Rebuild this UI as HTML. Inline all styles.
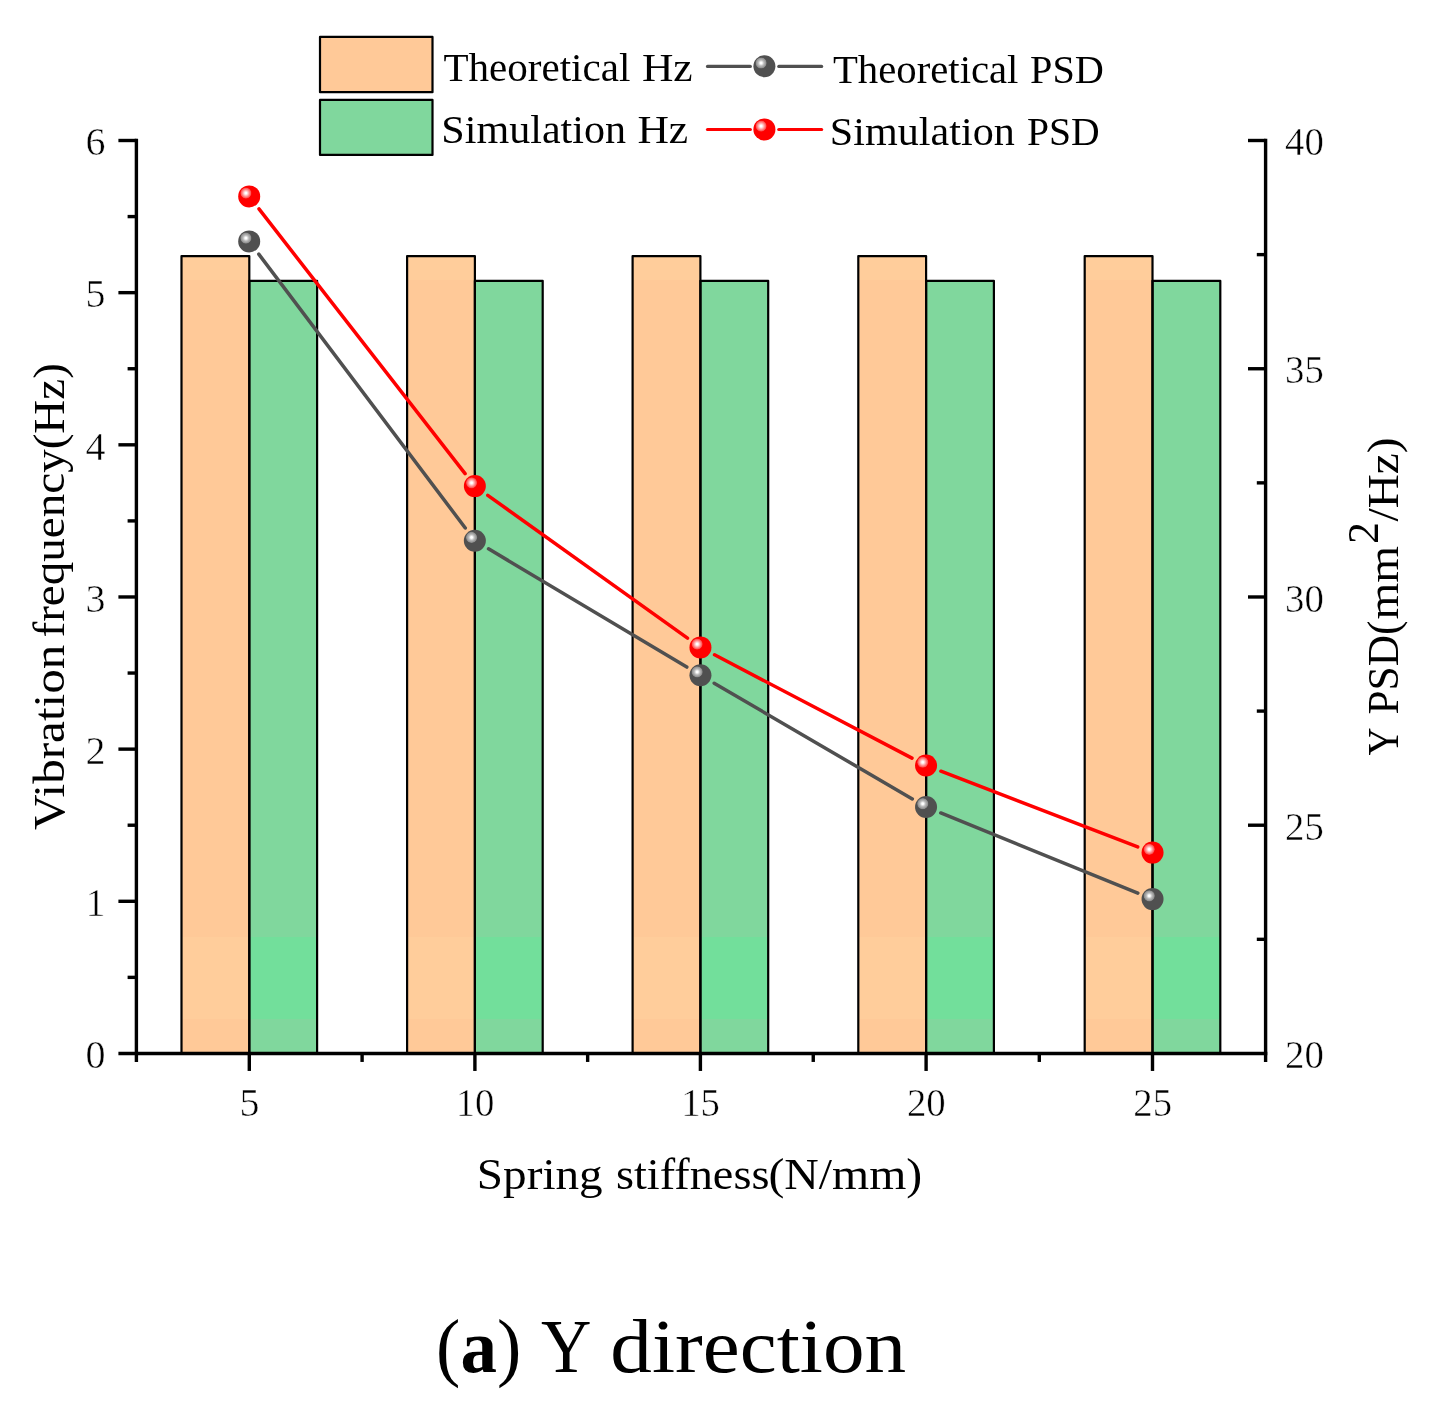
<!DOCTYPE html>
<html lang="en"><head><meta charset="utf-8"><title>(a) Y direction</title>
<style>html,body{margin:0;padding:0;background:#fff;}svg{display:block;}text{font-family:"Liberation Serif","Noto Serif CJK SC",serif;fill:#000;white-space:pre;}.tk{font-size:40px;stroke:#fff;stroke-width:0.5px;paint-order:fill stroke;}.lg{font-size:39.5px;}.ax{font-size:45px;}.tt{font-size:77px;}</style></head><body>
<svg width="1432" height="1422" viewBox="0 0 1432 1422">
<defs>
<radialGradient id="gr" cx="0.5" cy="0.5" r="0.5"><stop offset="0" stop-color="#fff"/><stop offset="0.16" stop-color="#fff"/><stop offset="0.55" stop-color="#ffa0a0"/><stop offset="0.92" stop-color="#ff4a4a"/><stop offset="1" stop-color="#ff1c1c"/></radialGradient>
<radialGradient id="gg" cx="0.5" cy="0.5" r="0.5"><stop offset="0" stop-color="#fff"/><stop offset="0.16" stop-color="#fff"/><stop offset="0.5" stop-color="#bcbcbc"/><stop offset="0.92" stop-color="#8c8c8c"/><stop offset="1" stop-color="#6c6c6c"/></radialGradient>
</defs>
<rect width="1432" height="1422" fill="#fff"/>
<rect x="181.50" y="256.1" width="67.8" height="797.35" fill="#FFC998"/>
<rect x="249.30" y="280.8" width="67.8" height="772.65" fill="#80D79D"/>
<rect x="181.50" y="937" width="67.8" height="82" fill="#FFCD9B"/>
<rect x="181.50" y="256.1" width="67.8" height="23.90" fill="#FFCD9B"/>
<rect x="249.30" y="937" width="67.8" height="82" fill="#72DF9B"/>
<rect x="181.50" y="256.1" width="67.8" height="797.35" fill="none" stroke="#000" stroke-width="2.2" stroke-linejoin="round"/>
<rect x="249.30" y="280.8" width="67.8" height="772.65" fill="none" stroke="#000" stroke-width="2.2" stroke-linejoin="round"/>
<rect x="407.10" y="256.1" width="67.8" height="797.35" fill="#FFC998"/>
<rect x="474.90" y="280.8" width="67.8" height="772.65" fill="#80D79D"/>
<rect x="407.10" y="937" width="67.8" height="82" fill="#FFCD9B"/>
<rect x="407.10" y="256.1" width="67.8" height="23.90" fill="#FFCD9B"/>
<rect x="474.90" y="937" width="67.8" height="82" fill="#72DF9B"/>
<rect x="407.10" y="256.1" width="67.8" height="797.35" fill="none" stroke="#000" stroke-width="2.2" stroke-linejoin="round"/>
<rect x="474.90" y="280.8" width="67.8" height="772.65" fill="none" stroke="#000" stroke-width="2.2" stroke-linejoin="round"/>
<rect x="632.60" y="256.1" width="67.8" height="797.35" fill="#FFC998"/>
<rect x="700.40" y="280.8" width="67.8" height="772.65" fill="#80D79D"/>
<rect x="632.60" y="937" width="67.8" height="82" fill="#FFCD9B"/>
<rect x="632.60" y="256.1" width="67.8" height="23.90" fill="#FFCD9B"/>
<rect x="700.40" y="937" width="67.8" height="82" fill="#72DF9B"/>
<rect x="632.60" y="256.1" width="67.8" height="797.35" fill="none" stroke="#000" stroke-width="2.2" stroke-linejoin="round"/>
<rect x="700.40" y="280.8" width="67.8" height="772.65" fill="none" stroke="#000" stroke-width="2.2" stroke-linejoin="round"/>
<rect x="858.30" y="256.1" width="67.8" height="797.35" fill="#FFC998"/>
<rect x="926.10" y="280.8" width="67.8" height="772.65" fill="#80D79D"/>
<rect x="858.30" y="937" width="67.8" height="82" fill="#FFCD9B"/>
<rect x="858.30" y="256.1" width="67.8" height="23.90" fill="#FFCD9B"/>
<rect x="926.10" y="937" width="67.8" height="82" fill="#72DF9B"/>
<rect x="858.30" y="256.1" width="67.8" height="797.35" fill="none" stroke="#000" stroke-width="2.2" stroke-linejoin="round"/>
<rect x="926.10" y="280.8" width="67.8" height="772.65" fill="none" stroke="#000" stroke-width="2.2" stroke-linejoin="round"/>
<rect x="1084.70" y="256.1" width="67.8" height="797.35" fill="#FFC998"/>
<rect x="1152.50" y="280.8" width="67.8" height="772.65" fill="#80D79D"/>
<rect x="1084.70" y="937" width="67.8" height="82" fill="#FFCD9B"/>
<rect x="1084.70" y="256.1" width="67.8" height="23.90" fill="#FFCD9B"/>
<rect x="1152.50" y="937" width="67.8" height="82" fill="#72DF9B"/>
<rect x="1084.70" y="256.1" width="67.8" height="797.35" fill="none" stroke="#000" stroke-width="2.2" stroke-linejoin="round"/>
<rect x="1152.50" y="280.8" width="67.8" height="772.65" fill="none" stroke="#000" stroke-width="2.2" stroke-linejoin="round"/>
<line x1="258.77" y1="254.10" x2="465.28" y2="528.00" stroke="#505050" stroke-width="3.5" stroke-linecap="round"/>
<line x1="488.51" y1="548.84" x2="686.79" y2="667.06" stroke="#505050" stroke-width="3.5" stroke-linecap="round"/>
<line x1="714.18" y1="683.22" x2="912.32" y2="798.98" stroke="#505050" stroke-width="3.5" stroke-linecap="round"/>
<line x1="940.78" y1="812.99" x2="1137.82" y2="893.11" stroke="#505050" stroke-width="3.5" stroke-linecap="round"/>
<circle cx="249.2" cy="241.4" r="11" fill="#505050"/>
<circle cx="245.90" cy="238.10" r="5.6" fill="url(#gg)"/>
<circle cx="474.85" cy="540.7" r="11" fill="#505050"/>
<circle cx="471.55" cy="537.40" r="5.6" fill="url(#gg)"/>
<circle cx="700.45" cy="675.2" r="11" fill="#505050"/>
<circle cx="697.15" cy="671.90" r="5.6" fill="url(#gg)"/>
<circle cx="926.05" cy="807.0" r="11" fill="#505050"/>
<circle cx="922.75" cy="803.70" r="5.6" fill="url(#gg)"/>
<circle cx="1152.55" cy="899.1" r="11" fill="#505050"/>
<circle cx="1149.25" cy="895.80" r="5.6" fill="url(#gg)"/>
<line x1="258.97" y1="208.94" x2="465.08" y2="473.56" stroke="#ff0000" stroke-width="3.5" stroke-linecap="round"/>
<line x1="487.78" y1="495.35" x2="687.52" y2="638.15" stroke="#ff0000" stroke-width="3.5" stroke-linecap="round"/>
<line x1="714.54" y1="654.77" x2="911.96" y2="758.13" stroke="#ff0000" stroke-width="3.5" stroke-linecap="round"/>
<line x1="940.89" y1="771.21" x2="1137.71" y2="846.89" stroke="#ff0000" stroke-width="3.5" stroke-linecap="round"/>
<circle cx="249.2" cy="196.4" r="11" fill="#ff0000"/>
<circle cx="245.90" cy="193.10" r="5.6" fill="url(#gr)"/>
<circle cx="474.85" cy="486.1" r="11" fill="#ff0000"/>
<circle cx="471.55" cy="482.80" r="5.6" fill="url(#gr)"/>
<circle cx="700.45" cy="647.4" r="11" fill="#ff0000"/>
<circle cx="697.15" cy="644.10" r="5.6" fill="url(#gr)"/>
<circle cx="926.05" cy="765.5" r="11" fill="#ff0000"/>
<circle cx="922.75" cy="762.20" r="5.6" fill="url(#gr)"/>
<circle cx="1152.55" cy="852.6" r="11" fill="#ff0000"/>
<circle cx="1149.25" cy="849.30" r="5.6" fill="url(#gr)"/>
<g stroke="#000" stroke-width="3.4" fill="none">
<line x1="136.4" y1="138.8" x2="136.4" y2="1061.95"/>
<line x1="1265.6" y1="138.8" x2="1265.6" y2="1061.95"/>
<line x1="118.4" y1="1053.45" x2="1267.3" y2="1053.45"/>
<line x1="118.4" y1="901.29" x2="136.4" y2="901.29"/>
<line x1="118.4" y1="749.13" x2="136.4" y2="749.13"/>
<line x1="118.4" y1="596.97" x2="136.4" y2="596.97"/>
<line x1="118.4" y1="444.82" x2="136.4" y2="444.82"/>
<line x1="118.4" y1="292.66" x2="136.4" y2="292.66"/>
<line x1="118.4" y1="140.50" x2="136.4" y2="140.50"/>
<line x1="127.60000000000001" y1="977.37" x2="136.4" y2="977.37"/>
<line x1="127.60000000000001" y1="825.21" x2="136.4" y2="825.21"/>
<line x1="127.60000000000001" y1="673.05" x2="136.4" y2="673.05"/>
<line x1="127.60000000000001" y1="520.90" x2="136.4" y2="520.90"/>
<line x1="127.60000000000001" y1="368.74" x2="136.4" y2="368.74"/>
<line x1="127.60000000000001" y1="216.58" x2="136.4" y2="216.58"/>
<line x1="1248.0" y1="825.21" x2="1265.6" y2="825.21"/>
<line x1="1248.0" y1="596.98" x2="1265.6" y2="596.98"/>
<line x1="1248.0" y1="368.74" x2="1265.6" y2="368.74"/>
<line x1="1248.0" y1="140.50" x2="1265.6" y2="140.50"/>
<line x1="1256.8" y1="939.33" x2="1265.6" y2="939.33"/>
<line x1="1256.8" y1="711.09" x2="1265.6" y2="711.09"/>
<line x1="1256.8" y1="482.86" x2="1265.6" y2="482.86"/>
<line x1="1256.8" y1="254.62" x2="1265.6" y2="254.62"/>
<line x1="249.30" y1="1053.45" x2="249.30" y2="1070.95"/>
<line x1="474.90" y1="1053.45" x2="474.90" y2="1070.95"/>
<line x1="700.40" y1="1053.45" x2="700.40" y2="1070.95"/>
<line x1="926.10" y1="1053.45" x2="926.10" y2="1070.95"/>
<line x1="1152.50" y1="1053.45" x2="1152.50" y2="1070.95"/>
<line x1="362.10" y1="1053.45" x2="362.10" y2="1061.95"/>
<line x1="587.65" y1="1053.45" x2="587.65" y2="1061.95"/>
<line x1="813.25" y1="1053.45" x2="813.25" y2="1061.95"/>
<line x1="1039.30" y1="1053.45" x2="1039.30" y2="1061.95"/>
</g>
<text class="tk" x="105.5" y="1068.2" text-anchor="end">0</text>
<text class="tk" x="105.5" y="916.0" text-anchor="end">1</text>
<text class="tk" x="105.5" y="763.8" text-anchor="end">2</text>
<text class="tk" x="105.5" y="611.7" text-anchor="end">3</text>
<text class="tk" x="105.5" y="459.5" text-anchor="end">4</text>
<text class="tk" x="105.5" y="307.4" text-anchor="end">5</text>
<text class="tk" x="105.5" y="155.2" text-anchor="end">6</text>
<text class="tk" x="1285" y="1068.2" textLength="38.8" lengthAdjust="spacingAndGlyphs">20</text>
<text class="tk" x="1285" y="839.9" textLength="38.8" lengthAdjust="spacingAndGlyphs">25</text>
<text class="tk" x="1285" y="611.7" textLength="38.8" lengthAdjust="spacingAndGlyphs">30</text>
<text class="tk" x="1285" y="383.4" textLength="38.8" lengthAdjust="spacingAndGlyphs">35</text>
<text class="tk" x="1285" y="155.2" textLength="38.8" lengthAdjust="spacingAndGlyphs">40</text>
<text class="tk" x="249.5" y="1116.3" text-anchor="middle">5</text>
<text class="tk" x="475.1" y="1116.3" text-anchor="middle" textLength="38.8" lengthAdjust="spacingAndGlyphs">10</text>
<text class="tk" x="700.6" y="1116.3" text-anchor="middle" textLength="38.8" lengthAdjust="spacingAndGlyphs">15</text>
<text class="tk" x="926.3" y="1116.3" text-anchor="middle" textLength="38.8" lengthAdjust="spacingAndGlyphs">20</text>
<text class="tk" x="1152.7" y="1116.3" text-anchor="middle" textLength="38.8" lengthAdjust="spacingAndGlyphs">25</text>
<rect x="320" y="36.9" width="112.5" height="55.3" fill="#FFC998" stroke="#000" stroke-width="2.2" stroke-linejoin="round"/>
<rect x="320" y="99.9" width="112.5" height="55" fill="#80D79D" stroke="#000" stroke-width="2.2" stroke-linejoin="round"/>
<line x1="707.5" y1="66.39999999999999" x2="750.3" y2="66.39999999999999" stroke="#505050" stroke-width="3.2" stroke-linecap="round"/>
<line x1="778.8" y1="66.39999999999999" x2="821.6" y2="66.39999999999999" stroke="#505050" stroke-width="3.2" stroke-linecap="round"/>
<circle cx="764.4" cy="66.3" r="11" fill="#505050"/><circle cx="761.1" cy="63.0" r="5.6" fill="url(#gg)"/>
<line x1="707.5" y1="129.5" x2="750.3" y2="129.5" stroke="#ff0000" stroke-width="3.2" stroke-linecap="round"/>
<line x1="778.8" y1="129.5" x2="821.6" y2="129.5" stroke="#ff0000" stroke-width="3.2" stroke-linecap="round"/>
<circle cx="764.4" cy="129.4" r="11" fill="#ff0000"/><circle cx="761.1" cy="126.10000000000001" r="5.6" fill="url(#gr)"/>
<text font-size="39.5"><tspan x="443.51" y="81.2" textLength="186.84" lengthAdjust="spacingAndGlyphs">Theoretical</tspan> <tspan x="641.92" y="81.2" textLength="50.78" lengthAdjust="spacingAndGlyphs">Hz</tspan></text>
<text font-size="39.5"><tspan x="441.39" y="143.4" textLength="184.67" lengthAdjust="spacingAndGlyphs">Simulation</tspan> <tspan x="637.43" y="143.4" textLength="50.78" lengthAdjust="spacingAndGlyphs">Hz</tspan></text>
<text font-size="39.5"><tspan x="832.98" y="82.8" textLength="185.47" lengthAdjust="spacingAndGlyphs">Theoretical</tspan> <tspan x="1029.99" y="82.8" textLength="73.91" lengthAdjust="spacingAndGlyphs">PSD</tspan></text>
<text font-size="39.5"><tspan x="829.88" y="145.2" textLength="184.94" lengthAdjust="spacingAndGlyphs">Simulation</tspan> <tspan x="1026.99" y="145.2" textLength="72.69" lengthAdjust="spacingAndGlyphs">PSD</tspan></text>
<text transform="rotate(-90)" font-size="45"><tspan x="-829.99" y="64.0" textLength="185.35" lengthAdjust="spacingAndGlyphs">Vibration</tspan> <tspan x="-637.53" y="64.0" textLength="274.45" lengthAdjust="spacingAndGlyphs">frequency(Hz)</tspan></text>
<text transform="rotate(-90)" font-size="45"><tspan x="-755.53" y="1397.6" textLength="36.31" lengthAdjust="spacingAndGlyphs">Y </tspan><tspan x="-714.48" y="1397.6" textLength="93.89" lengthAdjust="spacingAndGlyphs">PSD(</tspan><tspan x="-619.53" y="1397.6" textLength="73.47" lengthAdjust="spacingAndGlyphs">mm</tspan><tspan x="-543.96" y="1378.0" textLength="22.05" lengthAdjust="spacingAndGlyphs">2</tspan><tspan x="-521.49" y="1397.6" textLength="84.08" lengthAdjust="spacingAndGlyphs">/Hz)</tspan></text>
<text font-size="45"><tspan x="476.89" y="1188.5" textLength="125.76" lengthAdjust="spacingAndGlyphs">Spring</tspan> <tspan x="615.97" y="1188.5" textLength="153.45" lengthAdjust="spacingAndGlyphs">stiffness</tspan><tspan x="768.42" y="1188.5" textLength="153.77" lengthAdjust="spacingAndGlyphs">(N/mm)</tspan></text>
<text font-size="77"><tspan x="436.12" y="1371.8" textLength="85.12" lengthAdjust="spacingAndGlyphs">(<tspan font-weight="bold">a</tspan>)</tspan> <tspan x="541.07" y="1371.8" textLength="65.23" lengthAdjust="spacingAndGlyphs">Y </tspan><tspan x="610.33" y="1371.8" textLength="295.91" lengthAdjust="spacingAndGlyphs">direction</tspan></text>
</svg></body></html>
